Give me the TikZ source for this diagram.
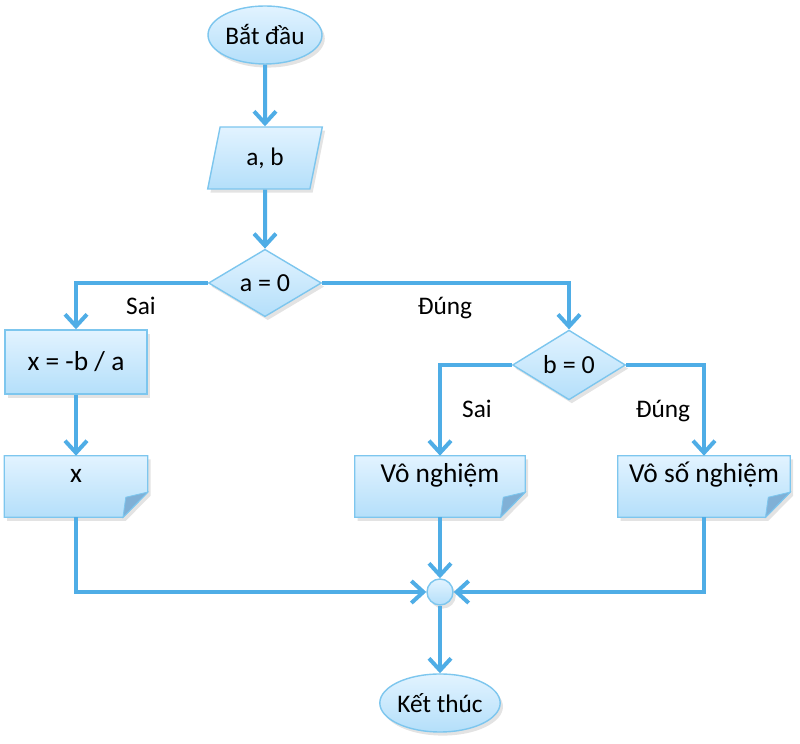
\documentclass[tikz,border=0pt]{standalone}
\usepackage{fontspec}
\setmainfont{Carlito}
\usetikzlibrary{shapes.geometric,arrows.meta,shadows,backgrounds}

\definecolor{flowline}{RGB}{79,173,230}
\definecolor{boxedge}{RGB}{125,198,238}
\definecolor{boxtop}{RGB}{226,243,255}
\definecolor{boxbottom}{RGB}{180,223,250}
\definecolor{foldfill}{RGB}{128,176,214}

\tikzset{
  box/.style={draw=boxedge, line width=1pt, top color=boxtop, bottom color=boxbottom,
    drop shadow={opacity=0.22, shadow xshift=0.07cm, shadow yshift=-0.09cm}},
  terminal/.style={box, ellipse, minimum width=2.85cm, minimum height=1.45cm, inner sep=0pt},
  inout/.style={box, trapezium, trapezium left angle=76, trapezium right angle=104,
    trapezium stretches=true, minimum width=2.875cm, minimum height=1.55cm, inner sep=0pt},
  decision/.style={box, diamond, minimum width=2.825cm, minimum height=1.55cm, inner sep=0pt,
    font=\fontsize{18.5}{22}\selectfont},
  process/.style={box, rectangle, minimum width=3.55cm, minimum height=1.6cm,
    font=\fontsize{19.5}{23}\selectfont},
  doc/.style={rectangle, inner ysep=0pt, text height=0.675cm, text depth=0.85cm,
    font=\fontsize{19.5}{23}\selectfont},
  joint/.style={box, circle, minimum size=0.65cm, inner sep=0pt},
  flow/.style={draw=flowline, line width=0.1cm, -{Straight Barb[length=0.3cm,width=0.55cm]}},
  lbl/.style={anchor=base}
}

\begin{document}
\begin{tikzpicture}[font=\fontsize{18}{22}\selectfont]
  \useasboundingbox (0,0) rectangle (20,18.6);

  % khoi bat dau, nhap, dieu kien
  \node[terminal] (start) at (6.625,17.725) {Bắt đầu};
  \node[inout] (input) at (6.625,14.65) {a, b};
  \node[decision] (ifa) at (6.625,11.525) {a = 0};

  % nhanh trai
  \node[process] (calc) at (1.9,9.55) {x = -b / a};
  \node[doc, minimum width=3.575cm] (outx) at (1.9,6.4375) {x};

  % nhanh phai
  \node[decision] (ifb) at (14.225,9.475) {b = 0};
  \node[doc, minimum width=4.25cm] (outnone) at (11.0,6.4375) {Vô nghiệm};
  \node[doc, minimum width=4.3cm] (outinf) at (17.6,6.4375) {Vô số nghiệm};

  % ket thuc
  \node[joint] (join) at (11.0,3.8) {};
  \node[terminal] (stop) at (11.0,1.025) {Kết thúc};

  % nhan
  \node[lbl] (sai1) at (3.525,10.725) {Sai};
  \node[lbl] (dung1) at (11.125,10.725) {Đúng};
  \node[lbl] (sai2) at (11.925,8.15) {Sai};
  \node[lbl] (dung2) at (16.575,8.15) {Đúng};

  % hinh tai lieu
  \begin{scope}[on background layer]
    \foreach \n in {outx,outnone,outinf}{
      \path[box] (\n.north west) -- (\n.north east) -- ([yshift=0.63cm]\n.south east)
        -- ([xshift=-0.62cm]\n.south east) -- (\n.south west) -- cycle;
      \fill[foldfill, draw=boxedge, line width=0.6pt] ([yshift=0.63cm]\n.south east)
        -- ([xshift=-0.62cm]\n.south east) -- ([xshift=-0.55cm,yshift=0.5cm]\n.south east) -- cycle;
    }
  \end{scope}

  % duong noi
  \draw[flow] (start) -- (input);
  \draw[flow] (input) -- (ifa);
  \draw[flow] (ifa.west) -| (calc.north);
  \draw[flow] (ifa.east) -| (ifb.north);
  \draw[flow] (calc) -- (outx);
  \draw[flow] (ifb.west) -| (outnone.north);
  \draw[flow] (ifb.east) -| (outinf.north);
  \draw[flow] (outx.south) |- (join.west);
  \draw[flow] (outnone.south) -- (join.north);
  \draw[flow] (outinf.south) |- (join.east);
  \draw[flow] (join) -- (stop);
\end{tikzpicture}
\end{document}
